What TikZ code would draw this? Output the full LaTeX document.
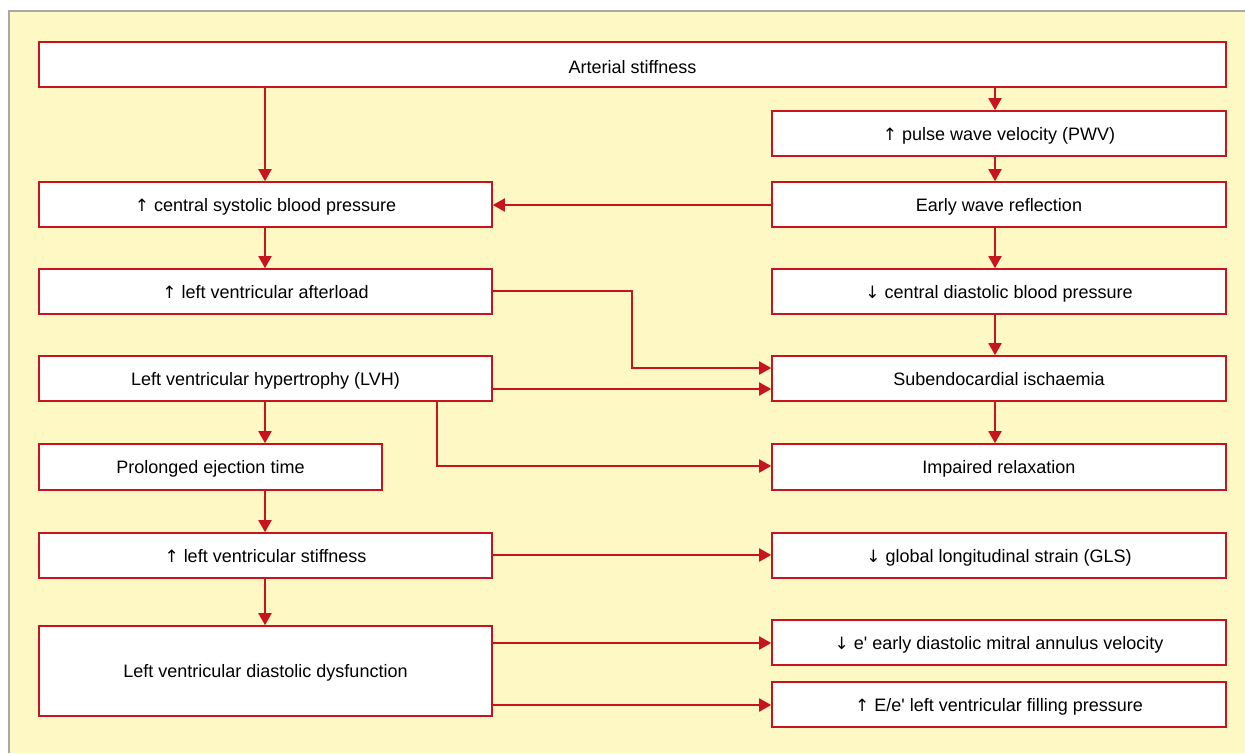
\documentclass[tikz,border=0pt]{standalone}
\usepackage{fontspec}
\setmainfont{Liberation Sans}
\newfontfamily\arrfont{DejaVu Sans}
\newfontfamily\apfont{Liberation Sans}
\newcommand{\upa}{{\arrfont\fontsize{17}{20}\selectfont ↑}}
\newcommand{\dna}{{\arrfont\fontsize{17}{20}\selectfont ↓}}
\newcommand{\apo}{{\apfont '}}
\usetikzlibrary{arrows.meta}
\definecolor{fred}{HTML}{C8141E}
\definecolor{fyellow}{HTML}{FEF8C4}
\definecolor{fgray}{HTML}{A8A8A8}
\begin{document}
\begin{tikzpicture}[x=1pt,y=-1pt,
  box/.style={draw=fred,line width=1.6pt,fill=white,inner sep=0pt,text height=13pt,text depth=0pt,font=\fontsize{18}{21}\selectfont},
  arr/.style={draw=fred,line width=1.9pt,-{Triangle[length=12pt,width=13pt]}}]
\useasboundingbox (0,0) rectangle (1245,753);
\fill[fyellow] (9,11) rectangle (1245,753);
\draw[fgray,line width=1.5pt] (9,753) -- (9,11) -- (1245,11);
% boxes: \bx[opts]{name}{x1}{y1}{x2}{y2}{text}
\newcommand{\bx}[7][]{\node[box,minimum width={#5-#3},minimum height={#6-#4},#1] (#2) at ({(#3+#5)/2},{(#4+#6)/2}) {#7};}
\bx[text height=18pt]{as}{39}{42}{1226}{87}{Arterial stiffness}
\bx{pwv}{772}{111}{1226}{156}{\upa{} pulse wave velocity (PWV)}
\bx{csbp}{39}{182}{492}{227}{\upa{} central systolic blood pressure}
\bx{ewr}{772}{182}{1226}{227}{Early wave reflection}
\bx{lva}{39}{269}{492}{314}{\upa{} left ventricular afterload}
\bx{cdbp}{772}{269}{1226}{314}{\dna{} central diastolic blood pressure}
\bx{lvh}{39}{356}{492}{401}{Left ventricular hypertrophy (LVH)}
\bx{si}{772}{356}{1226}{401}{Subendocardial ischaemia}
\bx{pet}{39}{444}{382}{490}{Prolonged ejection time}
\bx{ir}{772}{444}{1226}{490}{Impaired relaxation}
\bx{lvs}{39}{533}{492}{578}{\upa{} left ventricular stiffness}
\bx{gls}{772}{533}{1226}{578}{\dna{} global longitudinal strain (GLS)}
\bx{lvdd}{39}{626}{492}{716}{Left ventricular diastolic dysfunction}
\bx{ee}{772}{620}{1226}{665}{\dna{} e\apo{} early diastolic mitral annulus velocity}
\bx{fp}{772}{682}{1226}{727}{\upa{} E/e\apo{} left ventricular filling pressure}
% arrows
\draw[arr] (as.south -| 265,0) -- (csbp.north -| 265,0);
\draw[arr] (as.south -| 995,0) -- (pwv.north -| 995,0);
\draw[arr] (pwv.south -| 995,0) -- (ewr.north -| 995,0);
\draw[arr] (ewr.west |- 0,205) -- (csbp.east |- 0,205);
\draw[arr] (csbp.south -| 265,0) -- (lva.north -| 265,0);
\draw[arr] (ewr.south -| 995,0) -- (cdbp.north -| 995,0);
\draw[arr] (lva.east |- 0,291) -- (632,291) -- (632,368) -- (si.west |- 0,368);
\draw[arr] (lvh.east |- 0,389) -- (si.west |- 0,389);
\draw[arr] (cdbp.south -| 995,0) -- (si.north -| 995,0);
\draw[arr] (lvh.south -| 265,0) -- (pet.north -| 265,0);
\draw[arr] (lvh.south -| 437,0) -- (437,466) -- (ir.west |- 0,466);
\draw[arr] (si.south -| 995,0) -- (ir.north -| 995,0);
\draw[arr] (pet.south -| 265,0) -- (lvs.north -| 265,0);
\draw[arr] (lvs.east |- 0,555) -- (gls.west |- 0,555);
\draw[arr] (lvs.south -| 265,0) -- (lvdd.north -| 265,0);
\draw[arr] (lvdd.east |- 0,643) -- (ee.west |- 0,643);
\draw[arr] (lvdd.east |- 0,705) -- (fp.west |- 0,705);
\end{tikzpicture}
\end{document}
